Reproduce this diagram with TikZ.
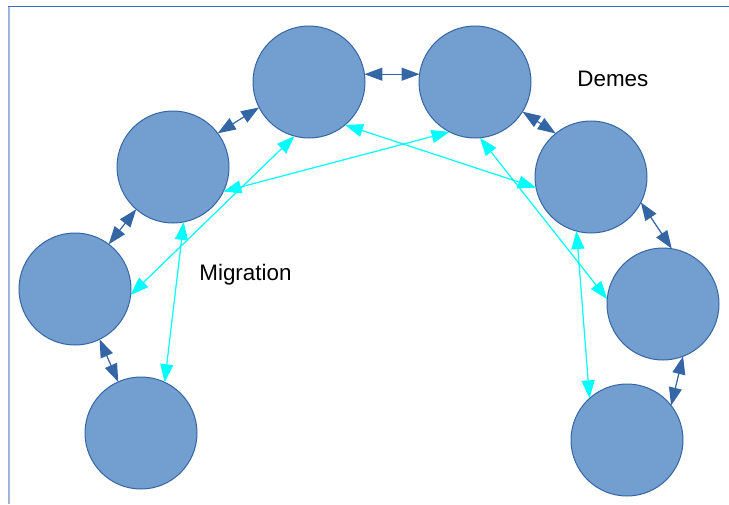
\documentclass[tikz,border=0pt]{standalone}
\usepackage{fontspec}
\setmainfont{Liberation Sans}
\usetikzlibrary{arrows.meta}

\definecolor{demefill}{HTML}{729FCF}
\definecolor{demeline}{HTML}{3465A4}
\definecolor{flowcol}{HTML}{00FFFF}
\definecolor{pagetop}{HTML}{3A6FC4}
\definecolor{pageside}{HTML}{9FB4DE}

\begin{document}
\begin{tikzpicture}[x=0.5pt,y=-0.5pt,>={Triangle[length=9pt,width=6.5pt]},
    deme/.style={circle,draw=demeline,fill=demefill,line width=0.5pt,
                 minimum size=56pt,inner sep=0pt,outer sep=0pt},
    link/.style={<->,draw=demeline,fill=demeline,line width=0.6pt},
    flow/.style={<->,draw=flowcol,fill=flowcol,line width=0.6pt},
    label/.style={anchor=base west,inner sep=0pt,font=\fontsize{11.2}{13}\selectfont}]
    \useasboundingbox (0,0) rectangle (729,504);

    % page edges
    \draw[pageside,line width=1pt] (8.5,6) -- (8.5,504);
    \draw[pagetop,line width=0.7pt] (8,6.5) -- (729,6.5);

    % the demes
    \foreach \n/\x/\y in {d1/309/82, d2/475/82, d3/173/167, d4/75/289,
                          d5/141/433, d6/591/177, d7/663/304, d8/627/440}
        \node[deme] (\n) at (\x,\y) {};

    % exchange between neighbours
    \foreach \a/\b in {d1.8/d2.172, d3.37/d1.207, d4.53/d3.229, d4.296/d5.114,
                       d2.-32/d6.129, d6.-27/d7.81, d7.-69/d8.38}
        \draw[link] (\a) -- (\b);

    % migration further away
    \foreach \a/\b in {d1.255/d4.-6, d2.243/d3.-26, d1.-50/d6.191,
                       d2.275/d7.175, d3.281/d5.65, d6.255/d8.132}
        \draw[flow] (\a) -- (\b);

    \node[label] (mig) at (199,280) {Migration};
    \node[label] (dem) at (577,86) {Demes};
\end{tikzpicture}
\end{document}
